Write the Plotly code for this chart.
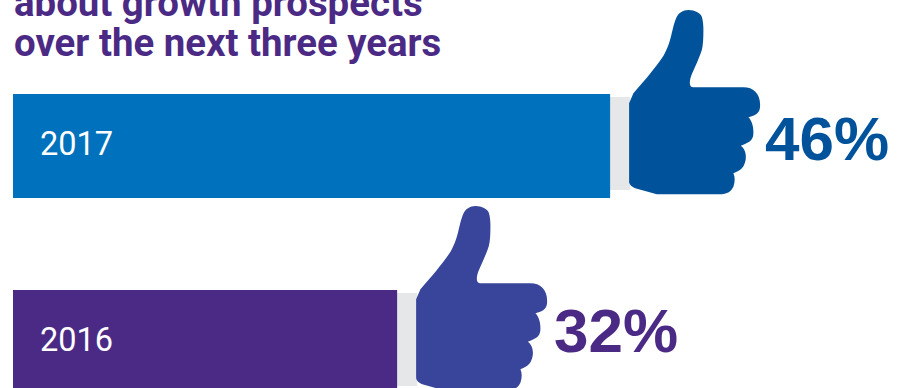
import plotly.graph_objects as go

# Survey data
years = ["2017", "2016"]
shares = [46, 32]
share_labels = ["46%", "32%"]
title_lines = ["about growth prospects", "over the next three years"]

# Palette
bar_colors = ["#0071BC", "#4B2A85"]
thumb_colors = ["#00529B", "#39459B"]
label_colors = ["#00529B", "#4B2A85"]
cuff_color = "#E5E7E8"
title_color = "#4B2A85"

# Pixel offsets of each value label from the end of its bar
label_dx = [154, 156]
label_dy = [8, 12]

# Hand outline, in pixels relative to the bar end and bar centre (y upward)
THUMB = (
    "M19,42.7 L23.3,52.7 C35,66 45,78 51.7,87.7 C57,95 60,106 61,110 "
    "C63,118 64,123 66,127.7 C68,133 73,136 78.3,136 C85,136 90,133 91.7,129.3 "
    "C93,125 93.3,120 93.3,116 C93.3,108 93,101 91.7,96 C90,90 84,77 81,70 "
    "C79,64 79,58.7 83.3,58.7 L133.3,58.7 C143,58.7 150,52.7 150,41 "
    "C150,35 148.3,31 138.3,28.7 C141,26 143.3,21 143.3,14 "
    "C143.3,7 141.7,4.3 130.7,0.3 C134,-2 136.7,-7.3 135.5,-14 "
    "C134,-21 131.7,-24 123.3,-27.3 C125,-31 125,-35.7 123.3,-40.7 "
    "C121,-45 118.3,-48.3 108.3,-48.3 L46.7,-48.3 L26,-42.5 C22,-41 19,-38.5 19,-35.7 Z"
)

fig = go.Figure(
    go.Bar(
        x=shares,
        y=years,
        orientation="h",
        width=104 / 196,
        marker=dict(color=bar_colors, line=dict(width=0)),
        hoverinfo="skip",
    )
)

shapes = []
annotations = []
for i, (year, share, label) in enumerate(zip(years, shares, share_labels)):
    # Sleeve sits behind the bar, the hand in front of it
    shapes.append(dict(
        type="rect", layer="below",
        xref="x", yref="y", xsizemode="pixel", ysizemode="pixel",
        xanchor=share, yanchor=i,
        x0=-1, x1=20, y0=-44, y1=49,
        fillcolor=cuff_color, line=dict(width=0),
    ))
    shapes.append(dict(
        type="path", layer="above",
        xref="x", yref="y", xsizemode="pixel", ysizemode="pixel",
        xanchor=share, yanchor=i,
        path=THUMB, fillcolor=thumb_colors[i], line=dict(width=0),
    ))
    annotations.append(dict(
        x=share, y=i, xref="x", yref="y", text=label, showarrow=False,
        xanchor="left", yanchor="middle", xshift=label_dx[i], yshift=label_dy[i],
        borderpad=0,
        font=dict(family="Liberation Sans", size=62, color=label_colors[i], weight="bold"),
    ))
    annotations.append(dict(
        x=0, y=i, xref="paper", yref="y", text=year, showarrow=False,
        xanchor="left", yanchor="middle", xshift=26, yshift=2,
        borderpad=0,
        font=dict(family="Roboto", size=32.5, color="#FFFFFF"),
    ))

for line, top in zip(title_lines, [-21, 19]):
    annotations.append(dict(
        x=0, y=1, xref="paper", yref="paper", text=line, showarrow=False,
        xanchor="left", yanchor="top", xshift=0, yshift=-top,
        borderpad=0, align="left",
        font=dict(family="Roboto", size=38.4, color=title_color, weight="bold"),
    ))

fig.update_layout(
    width=899, height=388,
    margin=dict(l=13, r=0, t=0, b=0),
    paper_bgcolor="white", plot_bgcolor="white",
    showlegend=False,
    shapes=shapes, annotations=annotations,
    xaxis=dict(range=[6.75, 64.99], visible=False, fixedrange=True),
    yaxis=dict(type="category", categoryorder="array", categoryarray=years,
               range=[1.2347, -0.7449], visible=False, fixedrange=True),
)

fig.write_html("out.html", config={"displayModeBar": False})
